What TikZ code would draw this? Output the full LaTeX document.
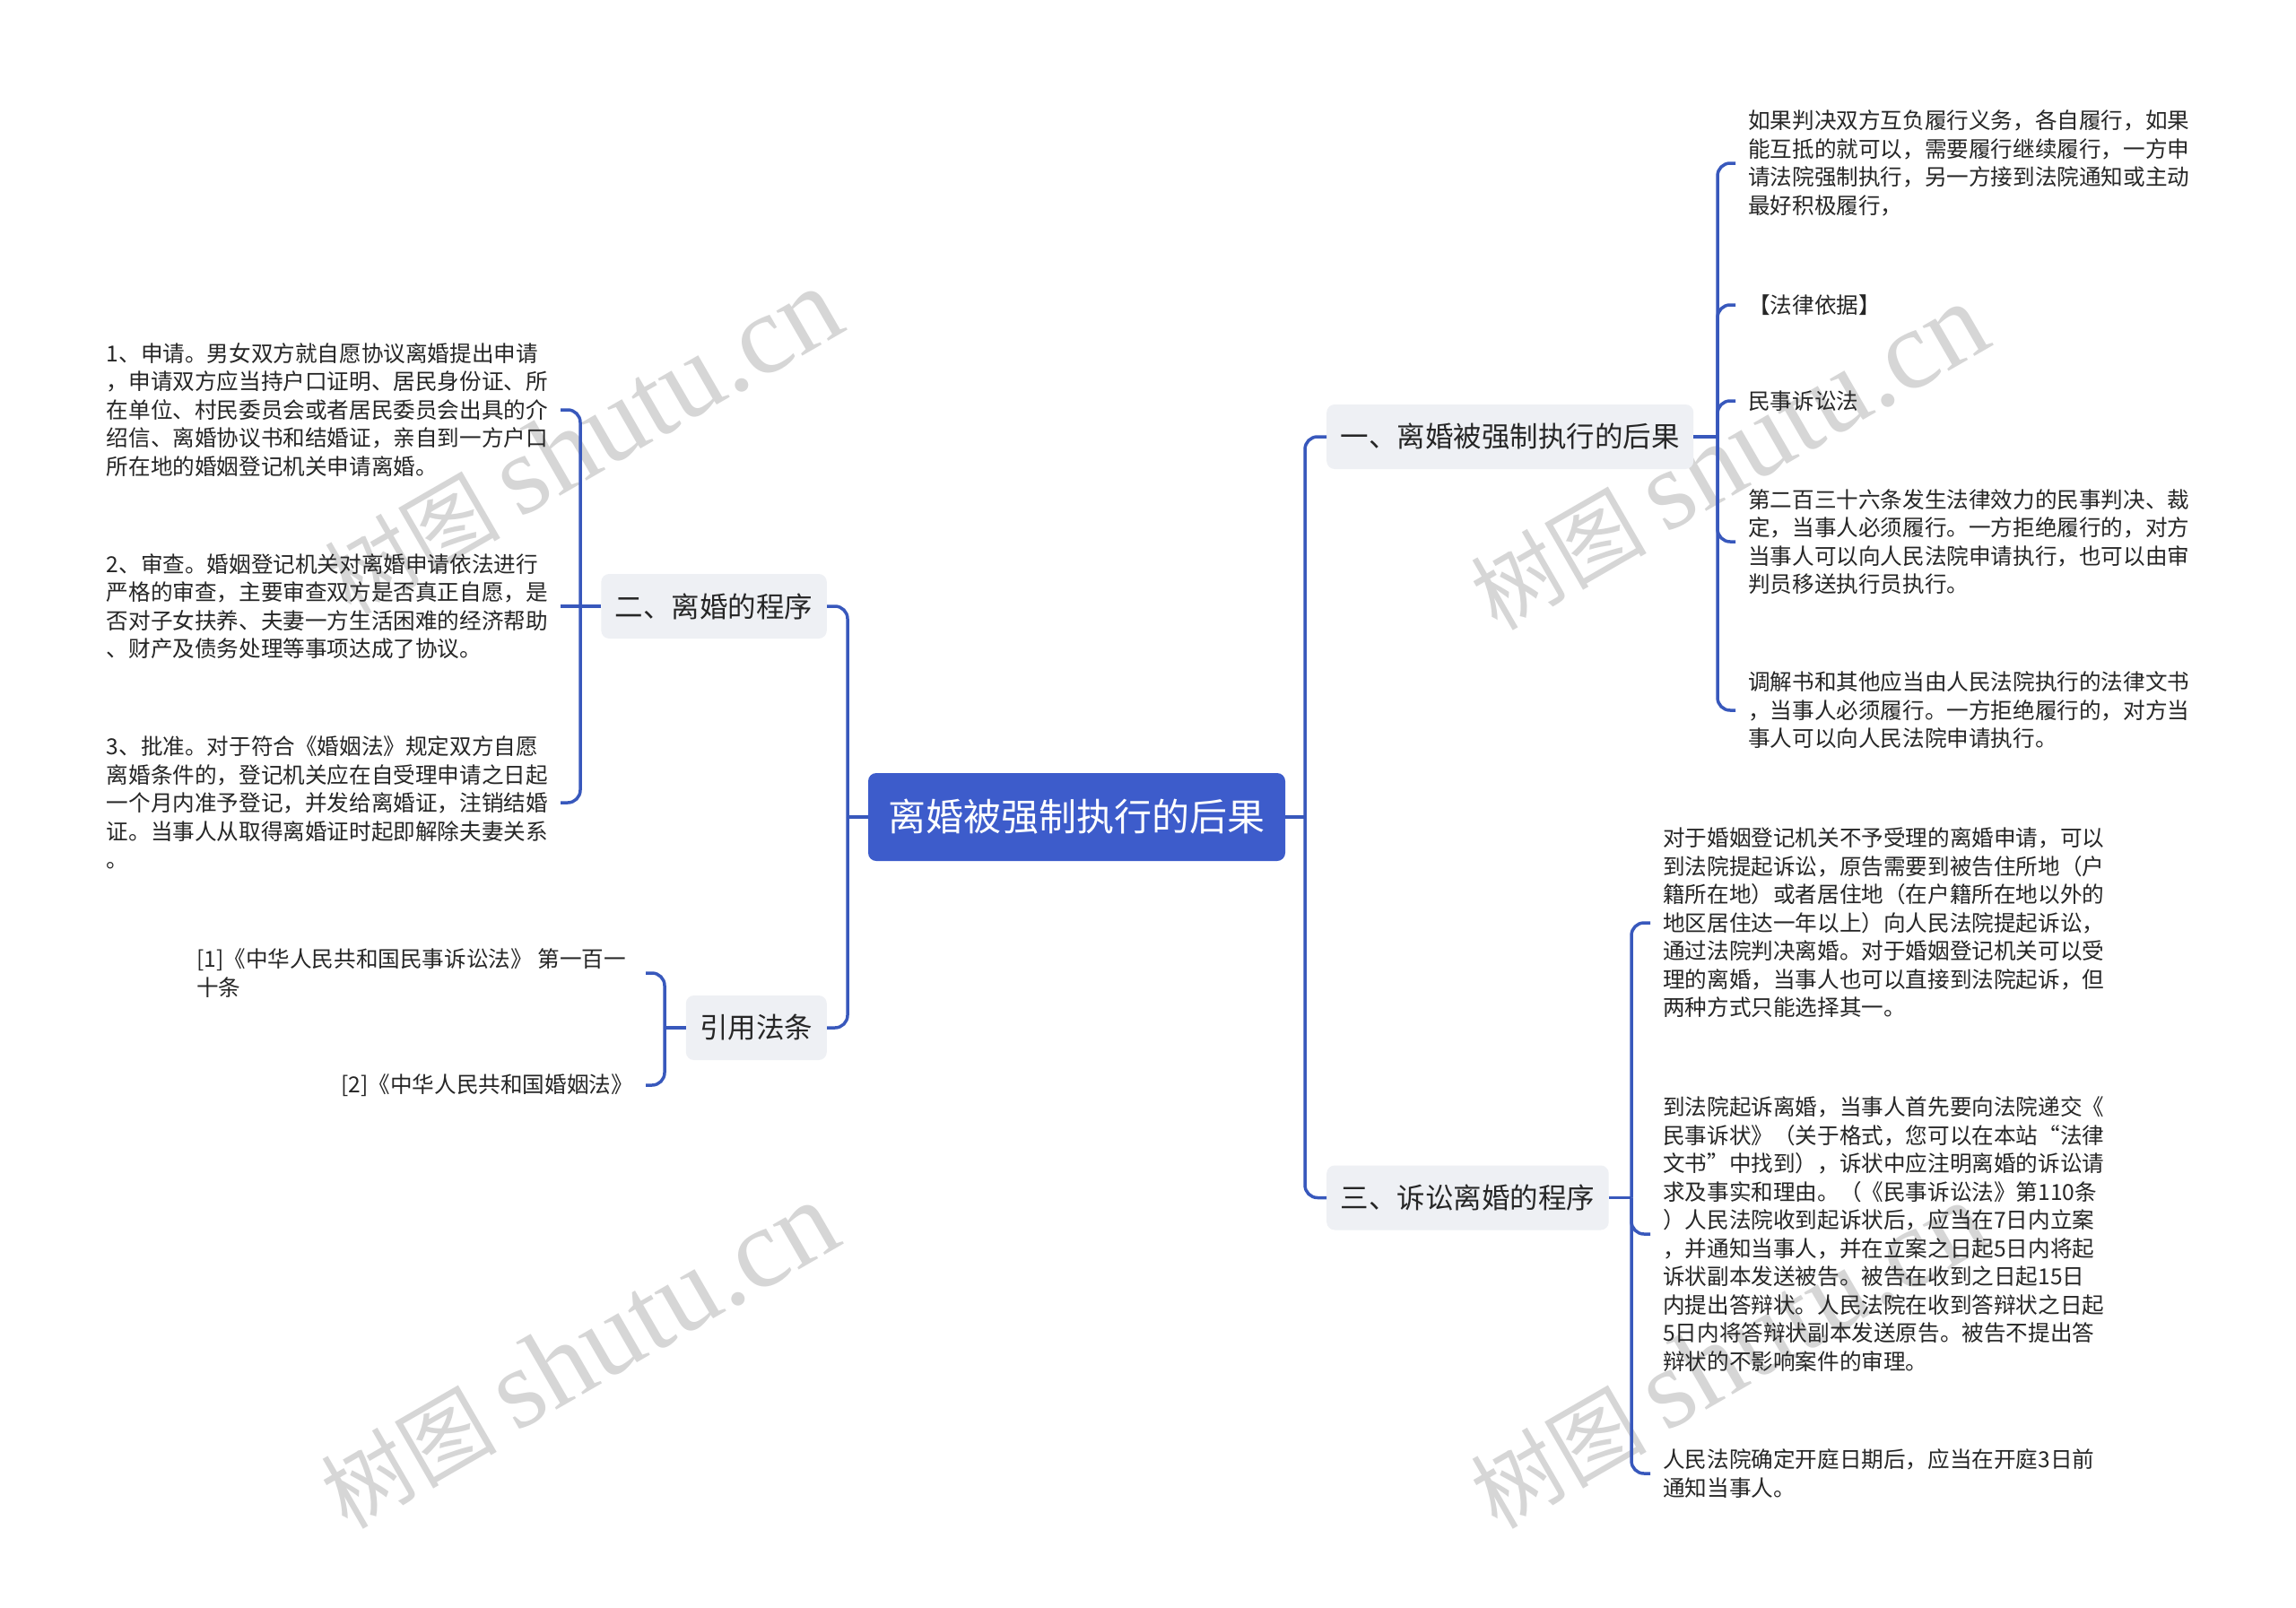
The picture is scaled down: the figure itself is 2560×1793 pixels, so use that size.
\documentclass[tikz,border=0pt]{standalone}
\usepackage{fontspec}
\setmainfont{Noto Sans CJK SC}
\newfontfamily\wmlatin{Liberation Serif}
\definecolor{linec}{HTML}{3858BC}
\definecolor{rootc}{HTML}{3D5CCB}
\definecolor{lvlone}{HTML}{EEF0F4}
\definecolor{txt}{HTML}{262626}
\definecolor{wm}{HTML}{D6D6D6}
\tikzset{
  conn/.style={draw=linec, line width=3.5, rounded corners=14},
  rootnode/.style={fill=rootc, rounded corners=9, text=white, font=\fontsize{42}{50}\selectfont, minimum width=465, minimum height=98, inner sep=0},
  lone/.style={fill=lvlone, rounded corners=9, text=txt, font=\fontsize{31.5}{38}\selectfont, minimum height=72, inner xsep=15.5, inner ysep=0},
  leaf/.style={text=txt, font=\fontsize{24.6}{31.5}\selectfont, align=left, inner xsep=14, inner ysep=0},
  wmark/.style={text=wm, rotate=30, inner sep=0, font=\fontsize{98}{100}\selectfont}
}
\newcommand{\wmtext}{树图 {\wmlatin\fontsize{126}{126}\selectfont shutu.cn}}
\begin{document}
\begin{tikzpicture}[x=1pt,y=-1pt]
\fill[white] (0,0) rectangle (2560,1793);
\useasboundingbox (0,0) rectangle (2560,1793);
% watermarks
\node[wmark] (w1) at (649,493) {\wmtext};
\node[wmark] (w2) at (645,1512) {\wmtext};
\node[wmark] (w3) at (1927,510) {\wmtext};
\node[wmark] (w4) at (1927,1512) {\wmtext};
% main nodes
\node[rootnode] (root) at (1200.5,911) {离婚被强制执行的后果};
\node[lone, anchor=west] (n1) at (1479,487) {一、离婚被强制执行的后果};
\node[lone, anchor=west] (n3) at (1479,1335.5) {三、诉讼离婚的程序};
\node[lone, anchor=east] (n2) at (922,676) {二、离婚的程序};
\node[lone, anchor=east] (n4) at (922,1146) {引用法条};
% right leaves of n1
\node[leaf, anchor=west] (a1) at (1935,182) {如果判决双方互负履行义务，各自履行，如果\\能互抵的就可以，需要履行继续履行，一方申\\请法院强制执行，另一方接到法院通知或主动\\最好积极履行，};
\node[leaf, anchor=west] (a2) at (1935,340) {【法律依据】};
\node[leaf, anchor=west] (a3) at (1935,447) {民事诉讼法};
\node[leaf, anchor=west] (a4) at (1935,604) {第二百三十六条发生法律效力的民事判决、裁\\定，当事人必须履行。一方拒绝履行的，对方\\当事人可以向人民法院申请执行，也可以由审\\判员移送执行员执行。};
\node[leaf, anchor=west] (a5) at (1935,792) {调解书和其他应当由人民法院执行的法律文书\\，当事人必须履行。一方拒绝履行的，对方当\\事人可以向人民法院申请执行。};
% right leaves of n3
\node[leaf, anchor=west] (c1) at (1840,1029) {对于婚姻登记机关不予受理的离婚申请，可以\\到法院提起诉讼，原告需要到被告住所地（户\\籍所在地）或者居住地（在户籍所在地以外的\\地区居住达一年以上）向人民法院提起诉讼，\\通过法院判决离婚。对于婚姻登记机关可以受\\理的离婚，当事人也可以直接到法院起诉，但\\两种方式只能选择其一。};
\node[leaf, anchor=west] (c2) at (1840,1376) {到法院起诉离婚，当事人首先要向法院递交《\\民事诉状》（关于格式，您可以在本站“法律\\文书”中找到），诉状中应注明离婚的诉讼请\\求及事实和理由。（《民事诉讼法》第110条\\）人民法院收到起诉状后，应当在7日内立案\\，并通知当事人，并在立案之日起5日内将起\\诉状副本发送被告。被告在收到之日起15日\\内提出答辩状。人民法院在收到答辩状之日起\\5日内将答辩状副本发送原告。被告不提出答\\辩状的不影响案件的审理。};
\node[leaf, anchor=west] (c3) at (1840,1643) {人民法院确定开庭日期后，应当在开庭3日前\\通知当事人。};
% left leaves of n2
\node[leaf, anchor=east] (b1) at (625,457) {1、申请。男女双方就自愿协议离婚提出申请\\，申请双方应当持户口证明、居民身份证、所\\在单位、村民委员会或者居民委员会出具的介\\绍信、离婚协议书和结婚证，亲自到一方户口\\所在地的婚姻登记机关申请离婚。};
\node[leaf, anchor=east] (b2) at (625,676) {2、审查。婚姻登记机关对离婚申请依法进行\\严格的审查，主要审查双方是否真正自愿，是\\否对子女扶养、夫妻一方生活困难的经济帮助\\、财产及债务处理等事项达成了协议。};
\node[leaf, anchor=east] (b3) at (625,895) {3、批准。对于符合《婚姻法》规定双方自愿\\离婚条件的，登记机关应在自受理申请之日起\\一个月内准予登记，并发给离婚证，注销结婚\\证。当事人从取得离婚证时起即解除夫妻关系\\。};
% left leaves of n4
\node[leaf, anchor=east] (d1) at (712,1085) {[1]《中华人民共和国民事诉讼法》 第一百一\\十条};
\node[leaf, anchor=east] (d2) at (720,1210) {[2]《中华人民共和国婚姻法》};
\coordinate (d1c) at (720,1085);
% connectors
\coordinate (bR) at (1455,911);
\coordinate (bL) at (945,911);
\coordinate (b1c) at (1915,487);
\coordinate (b3c) at (1819,1335.5);
\coordinate (b2c) at (647,676);
\coordinate (b4c) at (741,1146);
\draw[conn] (root.east) -- (bR);
\draw[conn] (bR) |- (n1.west);
\draw[conn] (bR) |- (n3.west);
\draw[conn] (root.west) -- (bL);
\draw[conn] (bL) |- (n2.east);
\draw[conn] (bL) |- (n4.east);
\draw[conn] (n1.east) -- (b1c);
\foreach \t in {a1,a2,a3,a4,a5} {\draw[conn] (b1c) |- (\t.west);}
\draw[conn] (n3.east) -- (b3c);
\foreach \t in {c1,c2,c3} {\draw[conn] (b3c) |- (\t.west);}
\draw[conn] (n2.west) -- (b2c);
\draw[conn] (b2c) |- (b1.east);
\draw[conn] (b2c) -- (b2.east);
\draw[conn] (b2c) |- (b3.east);
\draw[conn] (n4.west) -- (b4c);
\draw[conn] (b4c) |- (d1c);
\draw[conn] (b4c) |- (d2.east);
\end{tikzpicture}
\end{document}
